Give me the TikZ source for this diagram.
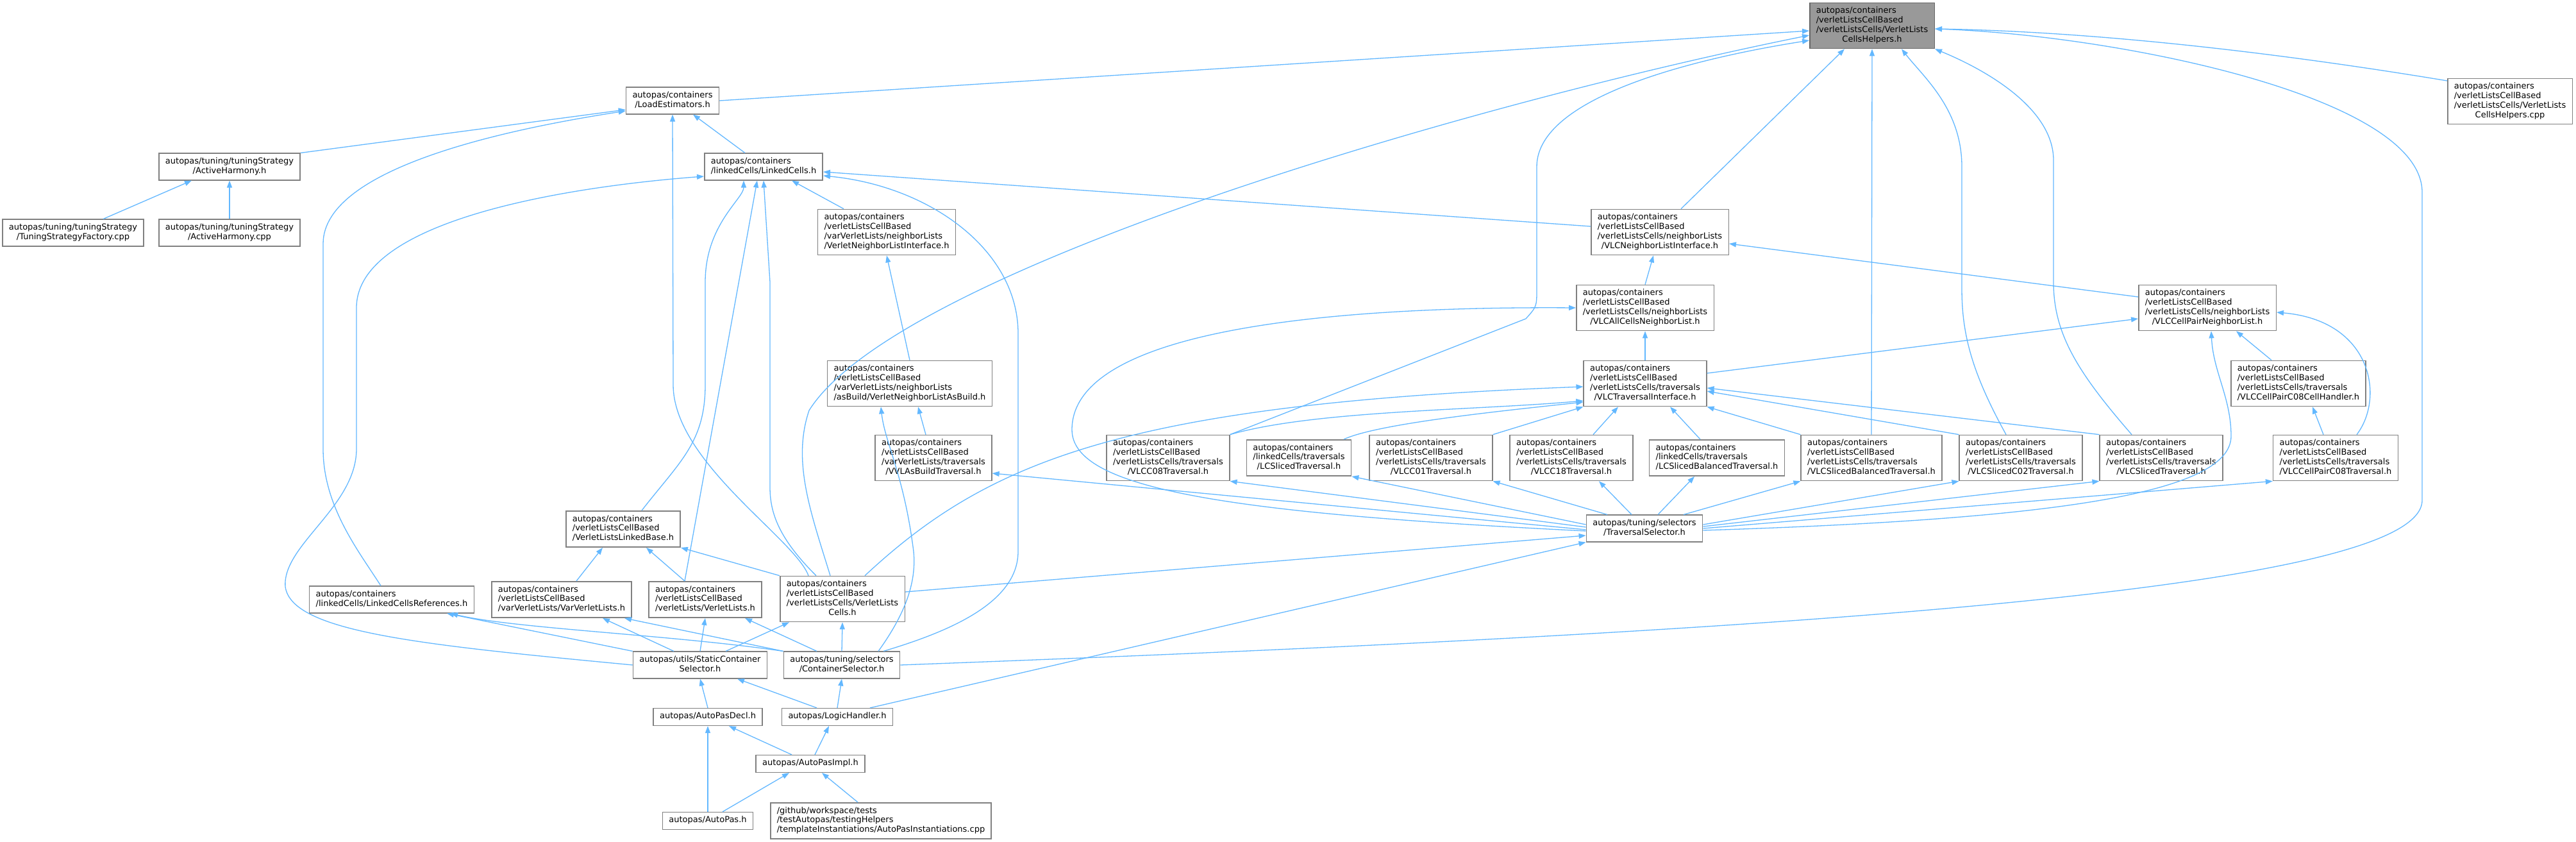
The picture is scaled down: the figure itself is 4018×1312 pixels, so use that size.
\documentclass[tikz,border=0pt]{standalone}
\usepackage{fontspec}
\setmainfont{DejaVu Sans}
\usepackage{tikz}
\usetikzlibrary{arrows.meta,calc}

\definecolor{edgeblue}{RGB}{99,184,255}
\definecolor{boxline}{RGB}{128,128,128}
\definecolor{mainfill}{RGB}{153,153,153}
\definecolor{mainline}{RGB}{102,102,102}

% lines of a file name: all left, the last one centred
\newcommand{\flines}[2]{\begin{tabular}{@{}l@{}}#1\\\multicolumn{1}{@{}c@{}}{#2}\end{tabular}}
\newcommand{\oline}[1]{\begin{tabular}{@{}c@{}}#1\end{tabular}}

\begin{document}
\begin{tikzpicture}[x=1pt,y=-1pt,
  filebox/.style={draw=boxline,line width=1.5pt,fill=white,inner xsep=10pt,inner ysep=6pt,
    font=\fontsize{13pt}{14.8pt}\selectfont},
  mainbox/.style={filebox,fill=mainfill,draw=mainline},
  dep/.style={draw=edgeblue,line width=1.3pt,-{Triangle[length=11pt,width=8pt]}}]
  \fill[white] (0,0) rectangle (4018,1312);
  \useasboundingbox (0,0) rectangle (4018,1312);

  \node[mainbox] (hlp) at (2920,40) {\flines{autopas/containers\\/verletListsCellBased\\/verletListsCells/VerletLists}{CellsHelpers.h}};
  \node[filebox] (lest) at (1049,157) {\flines{autopas/containers}{/LoadEstimators.h}};
  \node[filebox] (hcpp) at (3915,158) {\flines{autopas/containers\\/verletListsCellBased\\/verletListsCells/VerletLists}{CellsHelpers.cpp}};
  \node[filebox] (ahh) at (358,260) {\flines{autopas/tuning/tuningStrategy}{/ActiveHarmony.h}};
  \node[filebox] (lc) at (1191,260) {\flines{autopas/containers}{/linkedCells/LinkedCells.h}};
  \node[filebox] (vnli) at (1383,362) {\flines{autopas/containers\\/verletListsCellBased\\/varVerletLists/neighborLists}{/VerletNeighborListInterface.h}};
  \node[filebox] (vlcnli) at (2589,362) {\flines{autopas/containers\\/verletListsCellBased\\/verletListsCells/neighborLists}{/VLCNeighborListInterface.h}};
  \node[filebox] (tsf) at (114,363) {\flines{autopas/tuning/tuningStrategy}{/TuningStrategyFactory.cpp}};
  \node[filebox] (ahcpp) at (358,363) {\flines{autopas/tuning/tuningStrategy}{/ActiveHarmony.cpp}};
  \node[filebox] (acnl) at (2566,480) {\flines{autopas/containers\\/verletListsCellBased\\/verletListsCells/neighborLists}{/VLCAllCellsNeighborList.h}};
  \node[filebox] (cpnl) at (3443,480) {\flines{autopas/containers\\/verletListsCellBased\\/verletListsCells/neighborLists}{/VLCCellPairNeighborList.h}};
  \node[filebox] (asb) at (1419,598) {\flines{autopas/containers\\/verletListsCellBased\\/varVerletLists/neighborLists}{/asBuild/VerletNeighborListAsBuild.h}};
  \node[filebox] (tri) at (2566,598) {\flines{autopas/containers\\/verletListsCellBased\\/verletListsCells/traversals}{/VLCTraversalInterface.h}};
  \node[filebox] (c08h) at (3585,598) {\flines{autopas/containers\\/verletListsCellBased\\/verletListsCells/traversals}{/VLCCellPairC08CellHandler.h}};

  % traversals
  \node[filebox] (vvlt) at (1456,714) {\flines{autopas/containers\\/verletListsCellBased\\/varVerletLists/traversals}{/VVLAsBuildTraversal.h}};
  \node[filebox] (c08) at (1822,714) {\flines{autopas/containers\\/verletListsCellBased\\/verletListsCells/traversals}{/VLCC08Traversal.h}};
  \node[filebox] (lcs) at (2026,714) {\flines{autopas/containers\\/linkedCells/traversals}{/LCSlicedTraversal.h}};
  \node[filebox] (c01) at (2232,714) {\flines{autopas/containers\\/verletListsCellBased\\/verletListsCells/traversals}{/VLCC01Traversal.h}};
  \node[filebox] (c18) at (2451,714) {\flines{autopas/containers\\/verletListsCellBased\\/verletListsCells/traversals}{/VLCC18Traversal.h}};
  \node[filebox] (lcsb) at (2678,714) {\flines{autopas/containers\\/linkedCells/traversals}{/LCSlicedBalancedTraversal.h}};
  \node[filebox] (vsb) at (2919,714) {\flines{autopas/containers\\/verletListsCellBased\\/verletListsCells/traversals}{/VLCSlicedBalancedTraversal.h}};
  \node[filebox] (vc02) at (3152,714) {\flines{autopas/containers\\/verletListsCellBased\\/verletListsCells/traversals}{/VLCSlicedC02Traversal.h}};
  \node[filebox] (vsl) at (3371,714) {\flines{autopas/containers\\/verletListsCellBased\\/verletListsCells/traversals}{/VLCSlicedTraversal.h}};
  \node[filebox] (c08t) at (3643,714) {\flines{autopas/containers\\/verletListsCellBased\\/verletListsCells/traversals}{/VLCCellPairC08Traversal.h}};

  \node[filebox] (vllb) at (972,825) {\flines{autopas/containers\\/verletListsCellBased}{/VerletListsLinkedBase.h}};
  \node[filebox] (tsel) at (2565,824) {\flines{autopas/tuning/selectors}{/TraversalSelector.h}};
  \node[filebox] (lcr) at (611,935) {\flines{autopas/containers}{/linkedCells/LinkedCellsReferences.h}};
  \node[filebox] (vvl) at (876,935) {\flines{autopas/containers\\/verletListsCellBased}{/varVerletLists/VarVerletLists.h}};
  \node[filebox] (vl) at (1100,935) {\flines{autopas/containers\\/verletListsCellBased}{/verletLists/VerletLists.h}};
  \node[filebox] (vlc) at (1314,934) {\flines{autopas/containers\\/verletListsCellBased\\/verletListsCells/VerletLists}{Cells.h}};
  \node[filebox] (scs) at (1092,1037) {\flines{autopas/utils/StaticContainer}{Selector.h}};
  \node[filebox] (csel) at (1313,1037) {\flines{autopas/tuning/selectors}{/ContainerSelector.h}};
  \node[filebox] (apd) at (1104,1118) {\oline{autopas/AutoPasDecl.h}};
  \node[filebox] (lh) at (1306,1118) {\oline{autopas/LogicHandler.h}};
  \node[filebox] (api) at (1264,1191) {\oline{autopas/AutoPasImpl.h}};
  \node[filebox] (ap) at (1104,1280) {\oline{autopas/AutoPas.h}};
  \node[filebox] (inst) at (1374,1280) {\flines{/github/workspace/tests\\/testAutopas/testingHelpers}{/templateInstantiations/AutoPasInstantiations.cpp}};

  % into the helpers header
  \draw[dep] (lest.east) -- ([yshift=-8pt]hlp.west);
  \draw[dep] ([xshift=-19pt]vlc.north) .. controls (1265,800) and (1235,720) .. (1262,640) .. controls (1400,420) and (2300,160) .. ([yshift=-15pt]hlp.west);
  \draw[dep] (c08.north east) -- (2380,497) .. controls (2397,478) .. (2397,450) -- (2397,260) .. controls (2397,150) and (2650,90) .. ([yshift=-23pt]hlp.west);
  \draw[dep] ([xshift=33pt]vlcnli.north) -- ([xshift=-43pt]hlp.south);
  \draw[dep] (vsb.north) -- (hlp.south);
  \draw[dep] ([xshift=-23pt]vc02.north) .. controls (3075,580) and (3060,520) .. (3060,450) -- (3060,260) .. controls (3060,170) and (3000,120) .. ([xshift=46pt]hlp.south);
  \draw[dep] ([xshift=-46pt]vsl.north) .. controls (3240,580) and (3203,520) .. (3203,440) -- (3203,250) .. controls (3203,170) and (3100,110) .. (hlp.south east);
  \draw[dep] (csel.east) .. controls (2800,985) and (3778,920) .. (3778,780) -- (3778,300) .. controls (3778,150) and (3300,55) .. ([yshift=-5pt]hlp.east);
  \draw[dep] ([yshift=32pt]hcpp.west) .. controls (3600,90) and (3300,50) .. ([yshift=-5pt]hlp.east);

  % LoadEstimators, ActiveHarmony
  \draw[dep] (ahh.north east) -- ([yshift=-14pt]lest.west);
  \draw[dep] ([xshift=-17pt]lcr.north) .. controls (560,860) and (504,790) .. (504,700) -- (504,380) .. controls (504,260) and (800,200) .. ([yshift=-16pt]lest.west);
  \draw[dep] ([xshift=-29pt]lc.north) -- ([xshift=32pt]lest.south);
  \draw[dep] ([xshift=-53pt]vlc.north) .. controls (1240,840) and (1050,720) .. (1050,600) -- (lest.south);
  \draw[dep] ([xshift=47pt]tsf.north) -- ([xshift=-59pt]ahh.south);
  \draw[dep] (ahcpp) -- (ahh);

  % LinkedCells
  \draw[dep] (scs.west) .. controls (650,1005) and (455,985) .. (445,915) .. controls (440,850) and (556,790) .. (556,700) -- (556,480) .. controls (556,340) and (900,290) .. ([yshift=-15pt]lc.west);
  \draw[dep] (vllb.45) .. controls (1060,720) and (1100,690) .. (1100,600) -- (1100,440) .. controls (1100,350) and (1160,310) .. ([xshift=-31pt]lc.south);
  \draw[dep] ([xshift=-32pt]vl.north) -- ([xshift=-10pt]lc.south);
  \draw[dep] ([xshift=-41pt]vlc.north) .. controls (1215,840) and (1201,800) .. (1201,760) -- (1201,440) -- (lc.south);
  \draw[dep] ([xshift=-67pt]vnli.north) -- ([xshift=44pt]lc.south);
  \draw[dep] ([yshift=9pt]vlcnli.west) -- ([yshift=-8pt]lc.east);
  \draw[dep] ([xshift=65pt]csel.north) .. controls (1480,985) and (1588,940) .. (1588,860) -- (1588,520) .. controls (1588,390) and (1450,290) .. ([yshift=-14pt]lc.east);

  % neighbor lists
  \draw[dep] (asb.north) -- (vnli.south);
  \draw[dep] ([xshift=-12pt]vvlt.north) -- ([xshift=13pt]asb.south);
  \draw[dep] ([xshift=57pt]csel.north) .. controls (1410,960) and (1430,910) .. (1425,860) .. controls (1410,740) and (1380,690) .. ([xshift=-45pt]asb.south);
  \draw[dep] (tri.north) -- (acnl.south);
  \draw[dep] ([yshift=16pt]tri.east) -- ([yshift=-17pt]cpnl.west);
  \draw[dep] (acnl.north) -- ([xshift=-10pt]vlcnli.south);
  \draw[dep] ([yshift=17pt]cpnl.west) -- ([yshift=-18pt]vlcnli.east);
  \draw[dep] ([xshift=-42pt]c08h.north) -- ([xshift=45pt]cpnl.south);
  \draw[dep] ([xshift=-19pt]c08t.north) -- ([xshift=22pt]c08h.south);
  \draw[dep] ([xshift=33pt]c08t.north) .. controls (3720,620) and (3700,500) .. ([yshift=-7pt]cpnl.east);

  % traversal interface
  \draw[dep] ([xshift=35pt]vlc.north) .. controls (1540,720) and (1750,630) .. ([yshift=-5pt]tri.west);
  \draw[dep] (c08.north east) .. controls (2050,640) and (2300,640) .. ([yshift=-27pt]tri.west);
  \draw[dep] ([xshift=70pt]lcs.north) .. controls (2150,660) and (2350,640) .. ([yshift=-29pt]tri.west);
  \draw[dep] (c01.north east) -- (tri.south west);
  \draw[dep] ([xshift=34pt]c18.north) -- ([xshift=-42pt]tri.south);
  \draw[dep] ([xshift=-26pt]lcsb.north) -- ([xshift=39pt]tri.south);
  \draw[dep] (vsb.north west) -- (tri.south east);
  \draw[dep] (vc02.north west) -- ([yshift=-12pt]tri.east);
  \draw[dep] (vsl.north west) -- ([yshift=-7pt]tri.east);

  % traversal selector
  \draw[dep] ([yshift=-2pt]tsel.west) -- ([yshift=-24pt]vvlt.east);
  \draw[dep] ([yshift=2pt]tsel.west) -- (c08.south east);
  \draw[dep] ([yshift=6pt]tsel.west) -- (lcs.south east);
  \draw[dep] ([xshift=-58pt]tsel.north) -- (c01.south east);
  \draw[dep] ([xshift=-20pt]tsel.north) -- ([xshift=43pt]c18.south);
  \draw[dep] ([xshift=21pt]tsel.north) -- ([xshift=-35pt]lcsb.south);
  \draw[dep] ([xshift=61pt]tsel.north) -- (vsb.south west);
  \draw[dep] ([yshift=6pt]tsel.east) -- (vc02.south west);
  \draw[dep] ([yshift=3pt]tsel.east) -- (vsl.south west);
  \draw[dep] (tsel.east) -- (c08t.south west);
  \draw[dep] ([yshift=-3pt]tsel.east) .. controls (3200,810) and (3480,770) .. (3480,680) .. controls (3480,620) and (3452,580) .. ([xshift=6pt]cpnl.south);
  \draw[dep] ([yshift=-4pt]tsel.west) .. controls (1900,800) and (1672,760) .. (1672,670) .. controls (1672,500) and (2150,478) .. (acnl.west);

  % containers and selectors
  \draw[dep] ([xshift=23pt]vvl.north) -- ([xshift=-32pt]vllb.south);
  \draw[dep] ([xshift=-32pt]vl.north) -- ([xshift=36pt]vllb.south);
  \draw[dep] (vlc.north west) -- (vllb.south east);
  \draw[dep] (scs.north west) -- ([xshift=86pt]lcr.south);
  \draw[dep] (csel.north west) .. controls (1050,990) and (800,980) .. ([xshift=92pt]lcr.south);
  \draw[dep] ([xshift=-41pt]scs.north) -- ([xshift=64pt]vvl.south);
  \draw[dep] (csel.north west) -- ([xshift=98pt]vvl.south);
  \draw[dep] (scs.north) -- (vl.south);
  \draw[dep] ([xshift=-39pt]csel.north) -- ([xshift=62pt]vl.south);
  \draw[dep] ([xshift=40pt]scs.north) -- ([xshift=-83pt]vlc.south);
  \draw[dep] (csel.north) -- (vlc.south);
  \draw[dep] ([yshift=11pt]vlc.east) -- ([yshift=-11pt]tsel.west);
  \draw[dep] (apd.north) -- (scs.south);
  \draw[dep] ([xshift=-32pt]lh.north) -- ([xshift=58pt]scs.south);
  \draw[dep] (lh.north) -- (csel.south);
  \draw[dep] ([xshift=51pt]lh.north) -- (tsel.south west);
  \draw[dep] (ap.north) -- (apd.south);
  \draw[dep] ([xshift=-29pt]api.north) -- ([xshift=33pt]apd.south);
  \draw[dep] ([xshift=7pt]api.north) -- ([xshift=-13pt]lh.south);
  \draw[dep] ([xshift=23pt]ap.north) -- ([xshift=-33pt]api.south);
  \draw[dep] ([xshift=-36pt]inst.north) -- ([xshift=18pt]api.south);
\end{tikzpicture}
\end{document}
